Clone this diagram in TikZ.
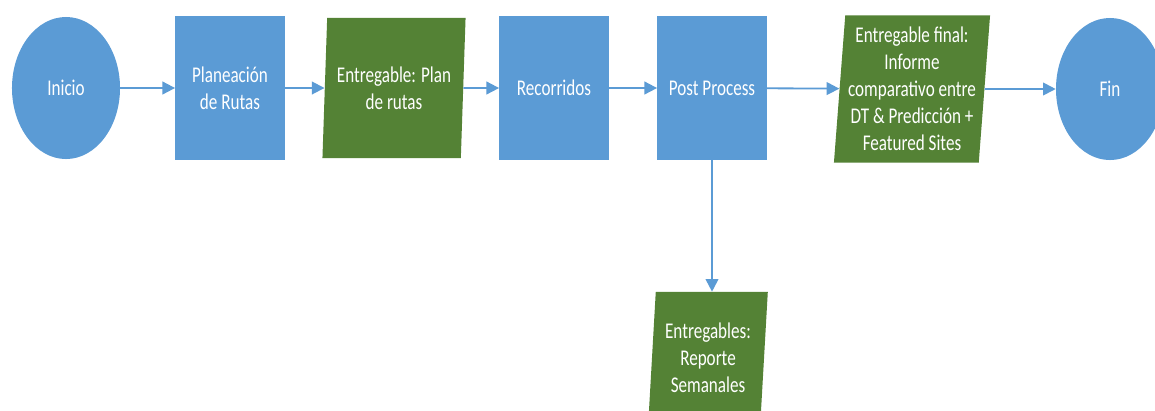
\documentclass[tikz,border=0pt]{standalone}
\usepackage{fontspec}
\setmainfont{Carlito}[FakeStretch=0.76]
\usepackage{xcolor}
\usepackage{tikz}
\usetikzlibrary{positioning,arrows.meta,shapes.geometric}
\definecolor{azul}{HTML}{5B9BD5}
\definecolor{verde}{HTML}{548235}

\begin{document}
\begin{tikzpicture}[
  x=0.025cm, y=-0.025cm,
  base/.style={text=white, font=\fontsize{16pt}{19.2pt}\selectfont, align=center, inner sep=2pt},
  proceso/.style={base, rectangle, fill=azul, minimum width=2.73cm, minimum height=3.6cm},
  terminal/.style={base, ellipse, fill=azul, minimum width=2.7cm, minimum height=3.55cm},
  entregable/.style={base, trapezium, trapezium left angle=85, trapezium right angle=95,
                     trapezium stretches=true, fill=verde},
  flecha/.style={-{Triangle[length=9pt,width=9pt]}, azul, line width=1.3pt}
]
\path[use as bounding box, fill=white] (0,0) rectangle (1155,410);
\clip (0,0) rectangle (1155,410);

% main flow
\node[terminal] (inicio) at (66,88) {Inicio};
\node[proceso] (planeacion) at (230,88) {Planeación\\de Rutas};
\node[entregable, minimum width=3.6cm, minimum height=3.5cm] (plan) at (394,88) {Entregable: Plan\\de rutas};
\node[proceso] (recorridos) at (554,88) {Recorridos};
\node[proceso] (post) at (712,88) {Post Process};
\node[entregable, minimum width=3.68cm, minimum height=3.68cm] (final) at (912,89)
  {Entregable final:\\Informe\\comparativo entre\\DT \& Predicción +\\Featured Sites};
\node[terminal] (fin) at (1110,89) {Fin};

% weekly deliverable
\node[entregable, minimum width=3cm, minimum height=3.3cm] (semanal) at (708,358)
  {Entregables:\\Reporte\\Semanales};

\foreach \a/\b in {inicio/planeacion, planeacion/plan, plan/recorridos,
                   recorridos/post, post/final, final/fin}
  \draw[flecha] (\a) -- (\b);
\draw[flecha] (post.south) -- (post.south |- semanal.north);
\end{tikzpicture}
\end{document}
